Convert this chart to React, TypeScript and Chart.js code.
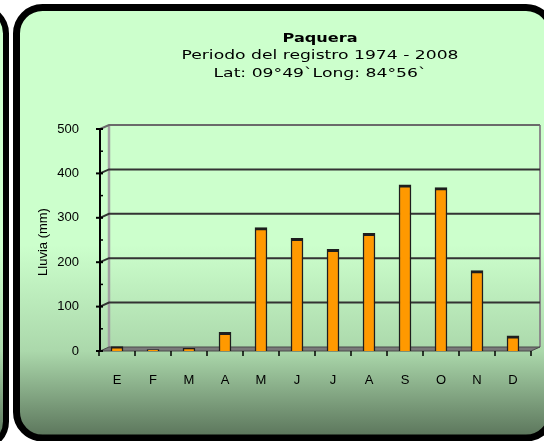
import React, { useEffect, useRef } from 'react';
import { Chart, registerables } from 'chart.js';

Chart.register(...registerables);

const months = ['E', 'F', 'M', 'A', 'M', 'J', 'J', 'A', 'S', 'O', 'N', 'D'];
const rainfall = [10, 3, 6, 42, 278, 254, 229, 265, 374, 368, 181, 34];
const yTicks = [0, 100, 200, 300, 400, 500];
const minorTicks = [50, 150, 250, 350, 450];
const titleText = 'Paquera';
const subtitleLines = ['Periodo del registro 1974 - 2008', 'Lat: 09°49`Long: 84°56`'];
const yAxisTitle = 'Lluvia (mm)';

function roundRectPath(ctx: CanvasRenderingContext2D, x: number, y: number, w: number, h: number, r: number) {
  ctx.beginPath();
  ctx.moveTo(x + r, y);
  ctx.lineTo(x + w - r, y);
  ctx.arcTo(x + w, y, x + w, y + r, r);
  ctx.lineTo(x + w, y + h - r);
  ctx.arcTo(x + w, y + h, x + w - r, y + h, r);
  ctx.lineTo(x + r, y + h);
  ctx.arcTo(x, y + h, x, y + h - r, r);
  ctx.lineTo(x, y + r);
  ctx.arcTo(x, y, x + r, y, r);
  ctx.closePath();
}

function panelGradient(ctx: CanvasRenderingContext2D) {
  const g = ctx.createLinearGradient(0, 12, 0, 436);
  g.addColorStop(0, '#ccffcc');
  g.addColorStop(0.55, '#ccffcc');
  g.addColorStop(0.8, '#abd8ab');
  g.addColorStop(1, '#5c765c');
  return g;
}

const framePlugin = {
  id: 'frame3d',
  beforeDraw(chart: any) {
    const ctx: CanvasRenderingContext2D = chart.ctx;
    ctx.save();
    ctx.fillStyle = '#ffffff';
    ctx.fillRect(0, 0, chart.width, chart.height);
    // left neighbouring panel
    roundRectPath(ctx, -60, 7.5, 66, 440, 26);
    ctx.fillStyle = panelGradient(ctx);
    ctx.fill();
    ctx.lineWidth = 6;
    ctx.strokeStyle = '#000';
    ctx.stroke();
    // main panel
    roundRectPath(ctx, 16.5, 7.5, 535.5, 430.5, 26);
    ctx.fillStyle = panelGradient(ctx);
    ctx.fill();
    ctx.lineWidth = 7;
    ctx.strokeStyle = '#000';
    ctx.stroke();
    ctx.restore();
  },
  beforeDatasetsDraw(chart: any) {
    const ctx: CanvasRenderingContext2D = chart.ctx;
    const ys = chart.scales.y;
    const xs = chart.scales.x;
    const area = chart.chartArea;
    const dx = 9;
    const dy = -4;
    const fl = area.left + 1;
    const bl = fl + dx;
    const br = area.right + dx;
    const fr = area.right;
    const y0 = ys.getPixelForValue(0);
    const yTop = ys.getPixelForValue(500);
    ctx.save();
    // back-left wall edge
    ctx.strokeStyle = '#a2a2a2';
    ctx.lineWidth = 2.5;
    ctx.beginPath();
    ctx.moveTo(bl, yTop + dy);
    ctx.lineTo(bl, y0 + dy);
    ctx.stroke();
    // right edge
    ctx.strokeStyle = '#8c8c8c';
    ctx.lineWidth = 2;
    ctx.beginPath();
    ctx.moveTo(br, yTop + dy);
    ctx.lineTo(br, y0 + dy);
    ctx.stroke();
    // gridlines
    yTicks.forEach((v) => {
      if (v === 0) return;
      const py = ys.getPixelForValue(v);
      ctx.strokeStyle = v === 500 ? '#6a6a6a' : '#333333';
      ctx.lineWidth = 2;
      ctx.beginPath();
      ctx.moveTo(fl, py);
      ctx.lineTo(bl, py + dy);
      ctx.lineTo(br, py + dy);
      ctx.stroke();
    });
    // floor
    ctx.beginPath();
    ctx.moveTo(fl, y0);
    ctx.lineTo(fr, y0);
    ctx.lineTo(br, y0 + dy);
    ctx.lineTo(bl, y0 + dy);
    ctx.closePath();
    ctx.fillStyle = '#7a7a7a';
    ctx.fill();
    ctx.strokeStyle = '#4a4a4a';
    ctx.lineWidth = 1;
    ctx.stroke();
    // front y axis
    ctx.strokeStyle = '#000';
    ctx.lineWidth = 2;
    ctx.beginPath();
    ctx.moveTo(fl, yTop);
    ctx.lineTo(fl, y0 + 1);
    ctx.stroke();
    yTicks.forEach((v) => {
      const py = ys.getPixelForValue(v);
      ctx.beginPath();
      ctx.moveTo(fl - 4, py);
      ctx.lineTo(fl + 3, py);
      ctx.stroke();
    });
    ctx.lineWidth = 1.5;
    minorTicks.forEach((v) => {
      const py = ys.getPixelForValue(v);
      ctx.beginPath();
      ctx.moveTo(fl, py);
      ctx.lineTo(fl + 3, py);
      ctx.stroke();
    });
    // x ticks at category boundaries
    const half = (xs.getPixelForValue(1) - xs.getPixelForValue(0)) / 2;
    ctx.lineWidth = 1.5;
    for (let k = 0; k <= months.length; k++) {
      const px = k < months.length ? xs.getPixelForValue(k) - half : xs.getPixelForValue(k - 1) + half;
      ctx.beginPath();
      ctx.moveTo(px, y0);
      ctx.lineTo(px, y0 + 5);
      ctx.stroke();
    }
    ctx.restore();
  },
  afterDraw(chart: any) {
    const ctx: CanvasRenderingContext2D = chart.ctx;
    ctx.save();
    ctx.fillStyle = '#000';
    ctx.textAlign = 'center';
    ctx.textBaseline = 'alphabetic';
    const cx = 320;
    const drawStretched = (text: string, font: string, baseline: number, width: number) => {
      ctx.font = font;
      const m = ctx.measureText(text).width;
      const s = width / m;
      ctx.save();
      ctx.translate(cx, baseline);
      ctx.scale(s, 1);
      ctx.fillText(text, 0, 0);
      ctx.restore();
    };
    drawStretched(titleText, 'bold 12px "DejaVu Sans"', 42, 75);
    drawStretched(subtitleLines[0], '13px "DejaVu Sans"', 59, 277);
    drawStretched(subtitleLines[1], '13px "DejaVu Sans"', 77, 213);
    // y axis title
    ctx.save();
    ctx.translate(43, 242);
    ctx.rotate(-Math.PI / 2);
    ctx.font = '13px "Liberation Sans"';
    ctx.textBaseline = 'middle';
    ctx.fillText(yAxisTitle, 0, 0);
    ctx.restore();
    ctx.restore();
  },
};

export default function App() {
  const canvasRef = useRef<HTMLCanvasElement | null>(null);

  useEffect(() => {
    document.body.style.margin = '0';
    const canvas = canvasRef.current;
    if (!canvas) return;
    const chart = new Chart(canvas, {
      type: 'bar',
      data: {
        labels: months,
        datasets: [
          {
            data: rainfall,
            backgroundColor: '#ff9900',
            borderColor: '#1e1e1e',
            borderWidth: { top: 3, left: 1.5, right: 1.5, bottom: 0 },
            barThickness: 12,
          },
        ],
      },
      options: {
        responsive: false,
        animation: false,
        devicePixelRatio: 1,
        layout: { padding: { left: 0, right: 13, top: 129, bottom: 40 } },
        plugins: {
          legend: { display: false },
          title: { display: false },
          tooltip: { enabled: false },
        },
        scales: {
          x: {
            grid: { display: false, drawTicks: false },
            border: { display: false },
            ticks: {
              font: { family: 'Liberation Sans', size: 13 },
              color: '#000',
              padding: 22,
              autoSkip: false,
              maxRotation: 0,
            },
            afterFit: (s: any) => {
              s.height = 50;
            },
          },
          y: {
            min: 0,
            max: 500,
            afterBuildTicks: (s: any) => {
              s.ticks = yTicks.map((v) => ({ value: v }));
            },
            grid: { display: false, drawTicks: false },
            border: { display: false },
            ticks: {
              font: { family: 'Liberation Sans', size: 13 },
              color: '#000',
              padding: 20,
            },
            afterFit: (s: any) => {
              s.width = 99;
            },
          },
        },
      },
      plugins: [framePlugin],
    } as any);
    return () => chart.destroy();
  }, []);

  return (
    <div style={{ width: 544, height: 441 }}>
      <canvas ref={canvasRef} width={544} height={441} style={{ display: 'block' }} />
    </div>
  );
}
